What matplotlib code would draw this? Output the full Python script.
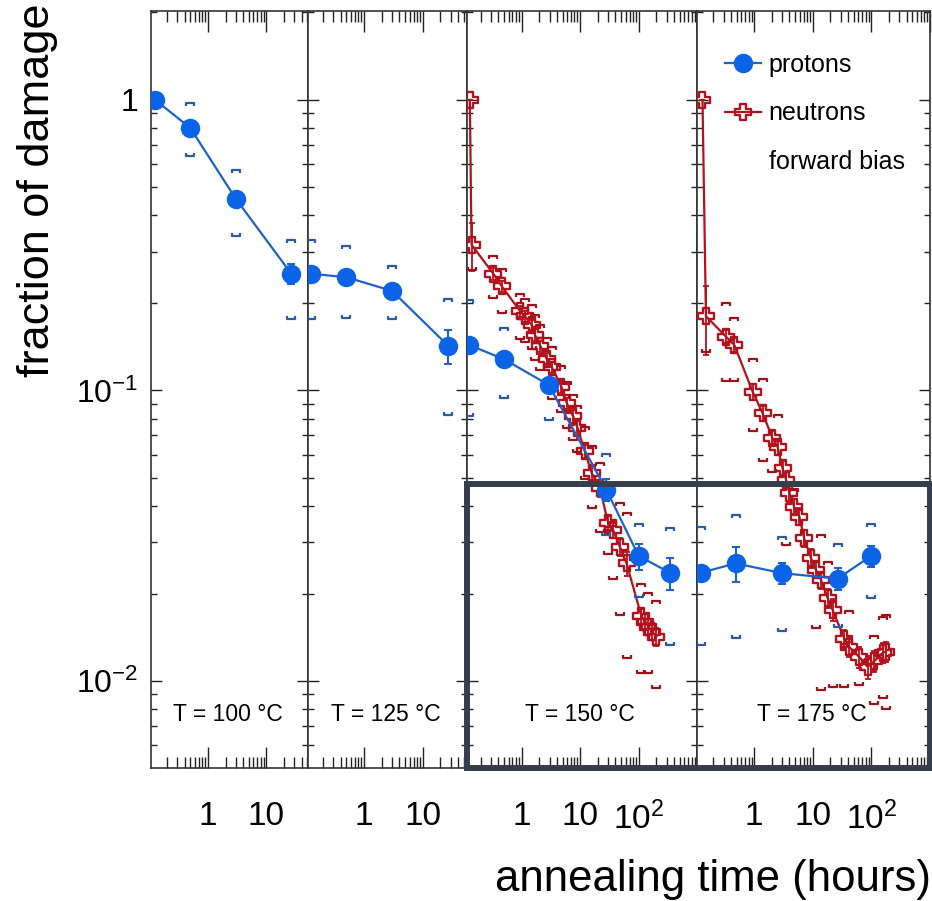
import numpy as np
import matplotlib
matplotlib.use('Agg')
import matplotlib.pyplot as plt
from matplotlib.path import Path
from matplotlib.lines import Line2D
from matplotlib.patches import Rectangle
from matplotlib.ticker import LogLocator, FuncFormatter, NullFormatter

plt.rcParams['font.family'] = ['Liberation Sans', 'DejaVu Sans']
plt.rcParams['mathtext.fontset'] = 'custom'
plt.rcParams['mathtext.rm'] = 'Liberation Sans'
plt.rcParams['mathtext.it'] = 'Liberation Sans:italic'
plt.rcParams['mathtext.bf'] = 'Liberation Sans:bold'

nan = np.nan

# ---------------- data ----------------
panel_labels = ['T = 100 °C', 'T = 125 °C', 'T = 150 °C', 'T = 175 °C']
panel_xlims = [(0.107, 51), (0.11, 56), (0.115, 1000), (0.107, 1000)]
y_limits = (0.00502, 2.02)
highlight_top = 0.0476

xtick_text = {1: '1', 10: '10', 100: '$10^{2}$'}
ytick_text = {1: '1', 0.1: '$10^{-1}$', 0.01: '$10^{-2}$'}

# protons (per panel)
p100_x = [0.125, 0.5, 3.0, 26.5]
p100_y = [1.0, 0.80, 0.456, 0.252]
p100_err = [0.01, 0.015, 0.01, 0.02]
p100_hi = [nan, 0.964, 0.57, 0.327]
p100_lo = [nan, 0.647, 0.343, 0.178]

p125_x = [0.125, 0.5, 3.0, 27]
p125_y = [0.252, 0.245, 0.22, 0.1426]
p125_err = [0.006, 0.006, 0.006, 0.019]
p125_hi = [0.326, 0.311, 0.265, 0.205]
p125_lo = [0.178, 0.179, 0.177, 0.083]

p150_x = [0.125, 0.5, 2.9, 28, 100, 340]
p150_y = [0.1435, 0.128, 0.1045, 0.0455, 0.0269, 0.0236]
p150_err = [0.004, 0.004, 0.004, 0.004, 0.0028, 0.003]
p150_hi = [0.203, 0.163, nan, 0.0597, 0.0345, 0.0334]
p150_lo = [0.082, 0.0948, 0.0799, 0.032, 0.0196, 0.0134]

p175_x = [0.125, 0.48, 3.0, 26.5, 98]
p175_y = [0.0236, 0.0254, 0.0235, 0.0225, 0.0269]
p175_err = [0.001, 0.0035, 0.002, 0.002, 0.0022]
p175_hi = [0.0337, 0.0371, 0.0311, 0.0293, 0.0344]
p175_lo = [0.0134, 0.0142, 0.0150, 0.0155, 0.0194]

# neutrons (150 and 175 C panels)
n150_x = [0.131, 0.14, 0.33, 0.46, 0.95, 1.15, 1.48, 1.7, 2.1, 2.7, 3.3, 4.8, 5.9, 7.6,
          9.0, 12.0, 15.7, 21.7, 30, 36.6, 47.6, 62, 111, 130, 145, 170, 200]
n150_y = [1.0, 0.317, 0.252, 0.228, 0.187, 0.180, 0.168, 0.155, 0.142, 0.128, 0.120, 0.103,
          0.0905, 0.0814, 0.0745, 0.0617, 0.052, 0.0461, 0.035, 0.0331, 0.029, 0.0254,
          0.0167, 0.0160, 0.0154, 0.0148, 0.0142]
n150_err = [0, 0.06, 0.012, 0.010, 0.008, 0.008, 0.007, 0.007, 0.006, 0.006, 0.005, 0.005,
            0.004, 0.004, 0.004, 0.003, 0.003, 0.003, 0.002, 0.002, 0.002, 0.0025, 0.001,
            0.001, 0.001, 0.001, 0.001]
n150_hi = [nan, nan, 0.287, 0.26, 0.213, 0.205, 0.195, 0.18, 0.166, 0.15, 0.14, 0.12, 0.106,
           0.096, 0.088, 0.074, 0.064, 0.056, 0.046, nan, 0.0405, 0.0377, 0.0214, nan, 0.020,
           nan, 0.0187]
n150_lo = [nan, 0.262, 0.21, 0.186, 0.152, 0.148, 0.14, 0.128, 0.118, 0.105, 0.094, 0.085,
           0.075, 0.068, 0.062, 0.05, 0.0396, 0.0329, 0.0275, 0.0226, 0.017, 0.0121, 0.0107,
           nan, 0.0107, nan, 0.0095]

n175_x = [0.131, 0.15, 0.33, 0.456, 0.94, 1.39, 2.05, 2.5, 3.04, 3.5, 4.0, 4.8, 5.9, 7.1,
          9.3, 11.3, 13.8, 17.9, 21.7, 34.4, 41.7, 61.9, 85.8, 112, 155, 177]
n175_y = [1.0, 0.18, 0.153, 0.1435, 0.099, 0.0835, 0.0685, 0.064, 0.054, 0.0492, 0.0443,
          0.0398, 0.0368, 0.031, 0.0265, 0.0241, 0.0223, 0.0193, 0.0176, 0.0140, 0.0131,
          0.0121, 0.0112, 0.0117, 0.0125, 0.0126]
n175_err = [0, 0.048, 0.008, 0.008, 0.006, 0.005, 0.004, 0.004, 0.003, 0.003, 0.003, 0.0025,
            0.0025, 0.002, 0.002, 0.0015, 0.0015, 0.0015, 0.0015, 0.001, 0.001, 0.001, 0.001,
            0.001, 0.001, 0.001]
n175_hi = [nan, nan, 0.198, 0.176, 0.127, 0.109, nan, 0.0816, nan, nan, nan, 0.0455, nan, nan,
           nan, nan, 0.0315, 0.0254, nan, nan, 0.0173, nan, nan, 0.0142, 0.0165, 0.0168]
n175_lo = [nan, 0.137, 0.109, 0.109, 0.073, 0.0574, 0.0528, nan, nan, 0.0297, nan, nan, nan,
           nan, nan, 0.0154, 0.0094, nan, 0.0096, 0.0096, nan, 0.0098, nan, 0.0084, 0.0088,
           0.0081]

protons = [(p100_x, p100_y, p100_err, p100_hi, p100_lo),
           (p125_x, p125_y, p125_err, p125_hi, p125_lo),
           (p150_x, p150_y, p150_err, p150_hi, p150_lo),
           (p175_x, p175_y, p175_err, p175_hi, p175_lo)]
neutrons = [None, None,
            (n150_x, n150_y, n150_err, n150_hi, n150_lo),
            (n175_x, n175_y, n175_err, n175_hi, n175_lo)]

# ---------------- style ----------------
P_COL = '#0b63e8'
P_LINE = '#1d62cc'
P_SYS = '#2a5aa8'
N_COL = '#b3121c'
N_SYS = '#a0121a'
BOX_COL = '#343f4b'

a = 0.36
cross_verts = [(-a, 1), (a, 1), (a, a), (1, a), (1, -a), (a, -a), (a, -1), (-a, -1),
               (-a, -a), (-1, -a), (-1, a), (-a, a), (-a, 1)]
open_cross = Path(cross_verts, closed=True)
br_up = Path([(-1, -0.45), (-1, 0.25), (1, 0.25), (1, -0.45)])
br_dn = Path([(-1, 0.45), (-1, -0.25), (1, -0.25), (1, 0.45)])

W, H = 932, 901
fig = plt.figure(figsize=(W / 100, H / 100), dpi=100)
left_px, right_px, top_px, bot_px = 151, 930, 11, 768
decades = [np.log10(b / a_) for a_, b in panel_xlims]
scale = (right_px - left_px) / sum(decades)

axes = []
x_px = left_px
for i in range(4):
    w = decades[i] * scale
    ax = fig.add_axes([x_px / W, 1 - bot_px / H, w / W, (bot_px - top_px) / H])
    x_px += w
    axes.append(ax)

def xfmt(v, pos):
    for k, s in xtick_text.items():
        if abs(v - k) < 1e-9 * max(k, 1):
            return s
    return ''

def yfmt(v, pos):
    for k, s in ytick_text.items():
        if abs(v - k) < 1e-6 * k:
            return s
    return ''

for i, ax in enumerate(axes):
    ax.set_xscale('log')
    ax.set_yscale('log')
    ax.set_xlim(*panel_xlims[i])
    ax.set_ylim(*y_limits)

    # neutrons first
    if neutrons[i] is not None:
        nx, ny, ne, nh, nl = neutrons[i]
        ax.errorbar(nx, ny, yerr=ne, fmt='none', ecolor=N_COL, elinewidth=1.3,
                    capsize=2.5, capthick=1.3, zorder=3)
        ax.plot(nx, ny, color=N_COL, lw=1.6, marker=open_cross, ms=12,
                mfc='none', mec=N_COL, mew=1.7, zorder=4)
        ax.plot(nx, nh, ls='none', marker=br_up, ms=6, mfc='none', mec=N_SYS, mew=1.6, zorder=4)
        ax.plot(nx, nl, ls='none', marker=br_dn, ms=6, mfc='none', mec=N_SYS, mew=1.6, zorder=4)

    px_, py_, pe, ph, pl = protons[i]
    ax.errorbar(px_, py_, yerr=pe, fmt='none', ecolor=P_LINE, elinewidth=1.5,
                capsize=3, capthick=1.5, zorder=5)
    ax.plot(px_, py_, color=P_LINE, lw=1.6, marker='o', ms=13, mfc=P_COL, mec=P_COL, zorder=6)
    ax.plot(px_, ph, ls='none', marker=br_up, ms=6, mfc='none', mec=P_SYS, mew=1.6, zorder=6)
    ax.plot(px_, pl, ls='none', marker=br_dn, ms=6, mfc='none', mec=P_SYS, mew=1.6, zorder=6)

    ax.xaxis.set_major_locator(LogLocator(base=10))
    ax.xaxis.set_minor_locator(LogLocator(base=10, subs=np.arange(2, 10)))
    ax.xaxis.set_major_formatter(FuncFormatter(xfmt))
    ax.xaxis.set_minor_formatter(NullFormatter())
    ax.yaxis.set_major_locator(LogLocator(base=10))
    ax.yaxis.set_minor_locator(LogLocator(base=10, subs=np.arange(2, 10)))
    ax.yaxis.set_major_formatter(FuncFormatter(yfmt))
    ax.yaxis.set_minor_formatter(NullFormatter())

    ax.tick_params(axis='both', which='both', direction='in', top=True, right=True,
                   color='#222222', width=1.0)
    ax.tick_params(axis='x', which='major', length=15, pad=24, labelsize=24)
    ax.tick_params(axis='x', which='minor', length=8)
    ax.tick_params(axis='y', which='major', length=8, pad=9, labelsize=23,
                   labelleft=(i == 0))
    ax.tick_params(axis='y', which='minor', length=4)
    for s in ax.spines.values():
        s.set_linewidth(1.2)
        s.set_color('#333333')

    ax.text(0.49, 0.071, panel_labels[i], transform=ax.transAxes, ha='center', va='center',
            fontsize=16.5, zorder=7)

# legend
handles = [Line2D([], [], color=P_LINE, lw=1.6, marker='o', ms=13, mfc=P_COL, mec=P_COL),
           Line2D([], [], color=N_COL, lw=1.6, marker=open_cross, ms=12, mfc='none',
                  mec=N_COL, mew=1.7),
           Line2D([], [], ls='none', marker=None)]
axes[3].legend(handles, ['protons', 'neutrons', 'forward bias'], loc='upper left',
               bbox_to_anchor=(725 / W, 1 - 53 / H), bbox_transform=fig.transFigure,
               frameon=False, fontsize=18, handlelength=1.45, handletextpad=0.3,
               labelspacing=0.98, borderpad=0, borderaxespad=0, numpoints=1)

# highlight box
inv = fig.transFigure.inverted()
bx0, btop = inv.transform(axes[2].transData.transform((panel_xlims[2][0], highlight_top)))
bx1, by0 = inv.transform(axes[3].transAxes.transform((1, 0)))
rect = Rectangle((bx0, by0), bx1 - bx0, btop - by0, transform=fig.transFigure, fill=False,
                 ec=BOX_COL, lw=4.3, zorder=20)
fig.add_artist(rect)

fig.text(38 / W, 1 - 3 / H, 'fraction of damage', rotation=90, ha='center', va='top',
         fontsize=32.5)
fig.text(931 / W, 1 - 880 / H, 'annealing time (hours)', ha='right', va='center',
         fontsize=31.5)

fig.savefig('out.png', dpi=100)
